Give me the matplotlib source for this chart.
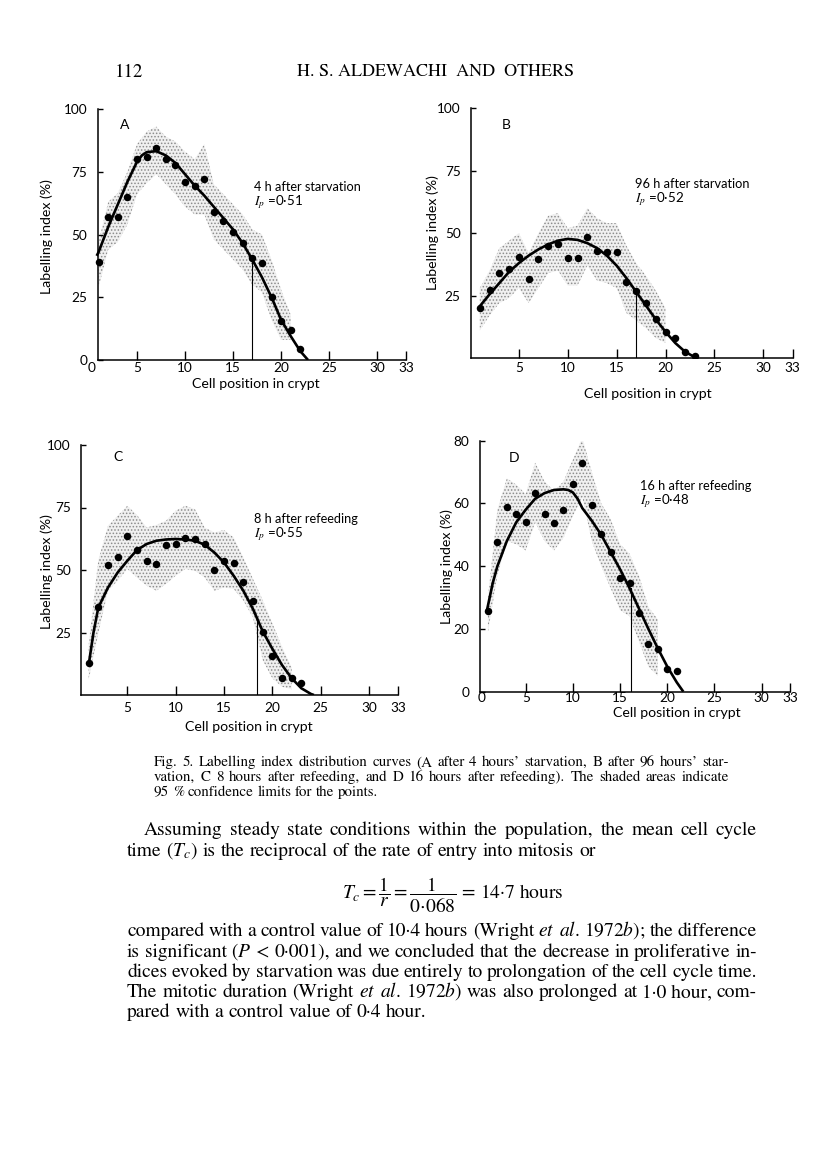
import numpy as np
import matplotlib
matplotlib.use('Agg')
import matplotlib.pyplot as plt

plt.rcParams['font.family'] = ['Lato', 'DejaVu Sans']
plt.rcParams['mathtext.fontset'] = 'stix'
plt.rcParams['hatch.linewidth'] = 0.7

W, H = 816, 1160

# ---- panel A : 4 h after starvation
a_x = list(range(1, 23))
a_y = [39, 57, 57, 65, 80, 81, 84.5, 80, 77.5, 71, 69.5, 72, 59, 55.5, 51, 46.5, 40.5, 38.5, 25, 15.5, 12, 4.5]
a_fit_x = [0.8, 1, 2, 3, 4, 5, 5.5, 6, 7, 8, 9, 10, 11, 12, 13, 14, 15, 16, 17, 18, 19, 20, 21, 22, 22.8]
a_fit_y = [41.5, 43, 53, 62, 71, 79, 81.5, 82.8, 83.2, 81.5, 78.5, 74, 69.5, 65.5, 61, 56.5, 52, 46.5, 40, 33, 25, 16, 9.5, 3.5, 0]
a_band_x = list(range(1, 22))
a_band_hi = [47, 63, 66.5, 75, 86, 91, 93, 89, 87, 83, 80, 86, 70, 66, 62, 58, 52, 50, 40, 28, 18]
a_band_lo = [29, 44, 47, 54, 66, 70.5, 74, 70, 66, 61, 58, 58, 48, 44, 40, 36, 30, 27, 16, 8, 8]

# ---- panel B : 96 h after starvation
b_x = list(range(1, 24))
b_y = [20, 27.3, 34, 35.7, 40.3, 31.7, 39.7, 45, 45.7, 40, 40, 48.4, 42.7, 42.3, 42.3, 30.3, 27, 22, 15.7, 10.4, 8, 2.4, 0.7]
b_fit_x = list(range(1, 24))
b_fit_y = [20.7, 25.5, 30, 34.5, 38, 41, 43.5, 45.5, 47, 47.7, 47.3, 46, 44, 41, 37, 32, 26.5, 21, 15.5, 10.5, 6, 2.5, 0.3]
b_band_x = list(range(1, 21))
b_band_hi = [28, 35, 44, 47, 50, 42, 50, 57, 58, 52, 53, 60, 56, 54, 54, 45, 38, 33, 27, 20]
b_band_lo = [11, 17, 22, 24, 28, 22, 28, 34, 35, 29, 29, 37, 31, 30, 28, 18, 15, 12, 8, 6]

# ---- panel C : 8 h after refeeding
c_x = list(range(1, 24))
c_y = [12.7, 35.1, 52.1, 55.3, 63.7, 58.2, 53.7, 52.4, 60, 60.4, 62.8, 62.6, 60.6, 50.1, 53.5, 52.7, 45.3, 37.8, 25.3, 15.6, 7, 7, 4.7]
c_fit_x = [1, 1.5, 2, 3, 4, 5, 6, 7, 8, 9, 10, 11, 12, 13, 14, 15, 16, 17, 18, 19, 20, 21, 22, 23, 24, 24.3]
c_fit_y = [12, 25, 35, 43, 49, 53.7, 58, 60.4, 61.7, 62.2, 62.4, 62.2, 61.7, 60.1, 57, 53, 47.7, 41.7, 34.4, 25.5, 18.5, 12, 6.7, 2.7, 0.4, 0]
c_band_x = list(range(1, 23))
c_band_hi = [20, 54, 67.7, 71.7, 75.7, 72, 67, 68, 69.7, 73.7, 75.7, 74.3, 67, 65, 66, 63, 55, 46.4, 38, 28.7, 19.3, 11]
c_band_lo = [6, 24.7, 41.7, 45.7, 50.4, 47, 43.7, 41.7, 44.4, 47.7, 50.4, 49.7, 47, 41.7, 43, 42.4, 37.8, 31, 14, 6.7, 3.3, 2.3]

# ---- panel D : 16 h after refeeding
d_x = list(range(1, 22))
d_y = [25.8, 47.6, 58.8, 56.6, 54, 63.4, 56.6, 53.7, 57.9, 66.2, 72.8, 59.5, 50.3, 44.4, 36.3, 34.5, 25, 15.2, 13.6, 7.2, 6.7]
d_fit_x = [0.9, 1.5, 2, 3, 4, 5, 6, 7, 8, 9, 9.5, 10, 10.5, 11, 12, 13, 14, 15, 16, 17, 18, 19, 20, 21, 21.7]
d_fit_y = [26, 34.5, 40, 48, 54, 58, 61.5, 63.3, 64.3, 64.5, 64.3, 63.5, 61.5, 58.5, 54.5, 50, 44.5, 39, 33, 26.5, 20, 13.8, 8, 3, 0]
d_band_x = list(range(1, 20))
d_band_hi = [30, 58, 68, 66, 63, 73, 67, 64, 67, 74, 81, 70, 60, 55, 47, 44, 37, 27, 23]
d_band_lo = [19, 37, 48, 47, 45, 54, 48, 45, 49, 56, 62, 48, 40, 33, 26, 24, 16, 8, 5]

x_labels_zero = ['0', '5', '10', '15', '20', '25', '30', '33']
x_labels_plain = ['5', '10', '15', '20', '25', '30', '33']

panels = [
    dict(letter='A', x=a_x, y=a_y, fx=a_fit_x, fy=a_fit_y, bx=a_band_x, hi=a_band_hi, lo=a_band_lo,
         vx=16.95, vy=40, ymax=100, yticks=[0, 25, 50, 75, 100], xlabels=x_labels_zero,
         spine=0.9, box=(89, 406, 109, 360), title='4 h after starvation', ip='0·51', xpad=1.5,
         note_xy=(254, 187), let_xy=(120, 125), ylab=(47, 237), xlab=(256, 384)),
    dict(letter='B', x=b_x, y=b_y, fx=b_fit_x, fy=b_fit_y, bx=b_band_x, hi=b_band_hi, lo=b_band_lo,
         vx=17.0, vy=25.5, ymax=100, yticks=[25, 50, 75, 100], xlabels=x_labels_plain,
         spine=0.1, box=(470, 792.6, 108.3, 358), title='96 h after starvation', ip='0·52', xpad=3,
         note_xy=(635, 184), let_xy=(502, 125), ylab=(433, 233), xlab=(648, 394)),
    dict(letter='C', x=c_x, y=c_y, fx=c_fit_x, fy=c_fit_y, bx=c_band_x, hi=c_band_hi, lo=c_band_lo,
         vx=18.4, vy=31.3, ymax=100, yticks=[25, 50, 75, 100], xlabels=x_labels_plain,
         spine=0.25, box=(79, 398, 445, 695), title='8 h after refeeding', ip='0·55', xpad=5,
         note_xy=(254, 519), let_xy=(113, 457), ylab=(47, 572), xlab=(249, 727)),
    dict(letter='D', x=d_x, y=d_y, fx=d_fit_x, fy=d_fit_y, bx=d_band_x, hi=d_band_hi, lo=d_band_lo,
         vx=16.2, vy=33, ymax=80, yticks=[0, 20, 40, 60, 80], xlabels=x_labels_zero,
         spine=0.15, box=(478.5, 790, 440.7, 691.7), title='16 h after refeeding', ip='0·48', xpad=0.5,
         note_xy=(640, 486), let_xy=(509, 458), ylab=(447, 567), xlab=(677, 713)),
]

fig = plt.figure(figsize=(W / 100, H / 100), dpi=100)
fig.patch.set_facecolor('white')


def fx(px):
    return px / W


def fy(py):
    return 1 - py / H


for p in panels:
    x0, x1, yt, yb = p['box']
    ax = fig.add_axes([fx(x0), fy(yb), (x1 - x0) / W, (yb - yt) / H])
    ax.set_xlim(0, 33)
    ax.set_ylim(0, p['ymax'])
    ax.patch.set_alpha(0)

    ax.fill_between(p['bx'], p['lo'], p['hi'], facecolor='#f0f0f0', edgecolor='#8c8c8c',
                    hatch='.....', linewidth=0, zorder=1)
    ax.plot(p['fx'], p['fy'], color='black', lw=1.9, zorder=3, solid_capstyle='butt')
    ax.plot([p['vx'], p['vx']], [0, p['vy']], color='black', lw=0.8, zorder=2)
    ax.plot(p['x'], p['y'], 'o', color='black', ms=5.4, mew=0, zorder=4)

    for s in ['top', 'right']:
        ax.spines[s].set_visible(False)
    ax.spines['left'].set_position(('data', p['spine']))
    ax.spines['bottom'].set_bounds(p['spine'], 33)
    ax.spines['left'].set_bounds(0, p['ymax'])
    for s in ['left', 'bottom']:
        ax.spines[s].set_linewidth(1.1)

    # the "0" under the origin sits just right of x = 0 in the print
    xpos = [0.3 if t == '0' else int(t) for t in p['xlabels']]
    ax.set_xticks(xpos)
    ax.set_xticklabels(p['xlabels'])
    ax.set_yticks(p['yticks'])
    ax.set_yticklabels([str(t) for t in p['yticks']])
    ax.tick_params(axis='x', direction='in', length=6.5, width=1, labelsize=9.8, pad=p['xpad'])
    ax.tick_params(axis='y', direction='in', length=3.5, width=1, labelsize=9.8, pad=7.5)
    if p['xlabels'][0] == '0':
        ax.xaxis.get_major_ticks()[0].tick1line.set_visible(False)

    fig.text(fx(p['let_xy'][0]), fy(p['let_xy'][1]), p['letter'], fontsize=10, ha='left', va='center')
    nx, ny = p['note_xy']
    fig.text(fx(nx), fy(ny), p['title'], fontsize=9.2, ha='left', va='center')
    fig.text(fx(nx), fy(ny + 15), r'$I_p$ =' + p['ip'], fontsize=9.6, ha='left', va='center')
    fig.text(fx(p['ylab'][0]), fy(p['ylab'][1]), 'Labelling index (%)', fontsize=10.2,
             rotation=90, ha='center', va='center')
    fig.text(fx(p['xlab'][0]), fy(p['xlab'][1]), 'Cell position in crypt', fontsize=10.2,
             ha='center', va='center')

# ---- page text
serif = 'STIXGeneral'
fig.text(fx(115), fy(72), '112', fontsize=13.5, family=serif, ha='left', va='center')
fig.text(fx(297), fy(72), 'H. S. ALDEWACHI  AND  OTHERS', fontsize=13, family=serif,
         ha='left', va='center')

renderer = fig.canvas.get_renderer()


def put_line(words, x0, x1, y, size, justify=True):
    ts = [fig.text(0, fy(y), w, fontsize=size, family=serif, ha='left', va='baseline') for w in words]
    widths = [t.get_window_extent(renderer).width for t in ts]
    if justify and len(ts) > 1:
        gap = (x1 - x0 - sum(widths)) / (len(ts) - 1)
    else:
        gap = size * 0.25 * 100 / 72
    pos = x0
    for t, w in zip(ts, widths):
        t.set_x(fx(pos))
        pos += w + gap


cap_lines = [
    "Fig. 5. Labelling index distribution curves (A after 4 hours’ starvation, B after 96 hours’ star-",
    "vation, C 8 hours after refeeding, and D 16 hours after refeeding). The shaded areas indicate",
    "95 % confidence limits for the points.",
]
cap_y = [766, 781, 796]
for i, (line, yy) in enumerate(zip(cap_lines, cap_y)):
    put_line(line.split(' '), 154, 729, yy, 10.8, justify=(i < 2))

body = [
    (144, "Assuming steady state conditions within the population, the mean cell cycle".split(' '), 835, True),
    (127, "time ($T_c$) is the reciprocal of the rate of entry into mitosis or".split(' '), 856, False),
    (127, ["compared", "with", "a", "control", "value", "of", "10·4", "hours", "(Wright", r"$\mathit{et}$",
           r"$\mathit{al.}$", r"1972$\mathit{b}$);", "the", "difference"], 936, True),
    (127, ["is", "significant", r"($\mathit{P}$", "<", "0·001),", "and", "we", "concluded", "that", "the",
           "decrease", "in", "proliferative", "in-"], 957, True),
    (127, "dices evoked by starvation was due entirely to prolongation of the cell cycle time.".split(' '), 977, True),
    (127, ["The", "mitotic", "duration", "(Wright", r"$\mathit{et}$", r"$\mathit{al.}$", r"1972$\mathit{b}$)",
           "was", "also", "prolonged", "at", "1·0 hour,", "com-"], 997, True),
    (127, "pared with a control value of 0·4 hour.".split(' '), 1017, False),
]
for x0, words, yy, just in body:
    put_line(words, x0, 757, yy, 14, justify=just)

fig.text(fx(453), fy(895), r'$T_c = \dfrac{1}{r} = \dfrac{1}{0{\cdot}068}$ = 14·7 hours',
         fontsize=14, family=serif, ha='center', va='center')

fig.savefig('out.png', dpi=100, facecolor='white')
